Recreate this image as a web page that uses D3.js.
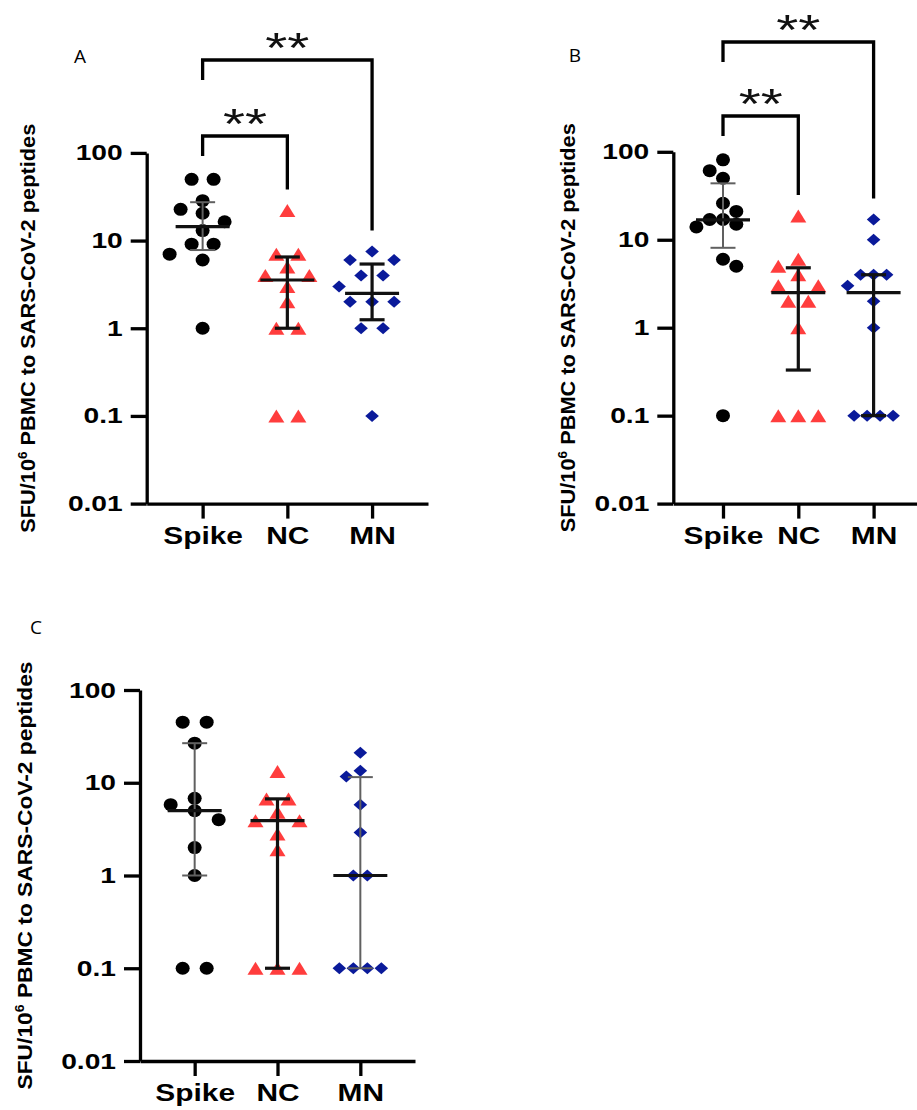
<!DOCTYPE html>
<html>
<head>
<meta charset="utf-8">
<script src="https://cdn.jsdelivr.net/npm/d3@7"></script>
<style>
body { margin: 0; background: #fff; }
svg { display: block; }
</style>
</head>
<body>
<svg id="fig" width="917" height="1110"></svg>
<script>
var groups = ["Spike", "NC", "MN"]
var yTicks = [100, 10, 1, 0.1, 0.01]
var yTickLabels = ["100", "10", "1", "0.1", "0.01"]

// values, SFU per 10^6 PBMC
var spikeA = [50, 50, 28.5, 22.7, 20.5, 16.4, 13, 9.1, 9.1, 7, 6, 1]
var ncA = [22, 7, 7, 5, 4, 4, 3, 2, 1, 1, 0.1, 0.1]
var mnA = [7.5, 6, 6, 4, 4, 3, 2, 2, 2, 1, 1, 0.1]
var statsA = [[14.4, 7.8, 27.4], [3.55, 1, 6.5], [2.5, 1.25, 5.4]]   // median, q1, q3
var sigA = [["Spike", "NC", "**"], ["Spike", "MN", "**"]]

var spikeB = [81, 61, 50, 26, 21, 17, 17, 15, 14, 6, 5, 0.1]
var ncB = [18.6, 6, 5, 4, 3, 3, 2, 2, 1, 0.1, 0.1, 0.1]
var mnB = [17, 10, 4, 4, 4, 3, 2, 1, 0.1, 0.1, 0.1, 0.1]
var statsB = [[16.8, 8.1, 43.8], [2.5, 0.33, 4.8], [2.5, 0.1, 4]]
var sigB = [["Spike", "NC", "**"], ["Spike", "MN", "**"]]

var spikeC = [45, 45, 26.7, 6.8, 5.8, 5, 4, 2, 1, 0.1, 0.1]
var ncC = [13.2, 6.7, 6.7, 4.8, 3.9, 3.9, 2.8, 1.9, 0.1, 0.1, 0.1]
var mnC = [21, 13.5, 11.7, 5.8, 2.9, 1, 1, 0.1, 0.1, 0.1, 0.1]
var statsC = [[5, 1, 26.7], [3.9, 0.1, 6.7], [1, 0.1, 11.5]]
var sigC = []

var colors = ["#000000", "#ff3d3d", "#0a1a9a"]
var font = "'Liberation Sans', Arial, sans-serif"

var panels = [
    {letter: "A", data: [spikeA, ncA, mnA], stats: statsA, sig: sigA,
     x0: 146.7, x1: 428, yTop: 152.9, yBot: 503.6, lx: 80, ly: 56, tx: 28, tlen: 409,
     brY: [136, 60], gaps: [22, 22, 22], thin: [true, false, false]},
    {letter: "B", data: [spikeB, ncB, mnB], stats: statsB, sig: sigB,
     x0: 673.3, x1: 923.3, yTop: 151.8, yBot: 503.6, lx: 575, ly: 55, tx: 567.5, tlen: 409,
     brY: [116, 42], gaps: [13.3, 20, 13], thin: [true, false, false]},
    {letter: "C", data: [spikeC, ncC, mnC], stats: statsC, sig: sigC,
     x0: 140, x1: 415, yTop: 690, yBot: 1061, lx: 36, ly: 627, tx: 25, tlen: 428,
     brY: [], gaps: [24, 22, 14], thin: [true, false, true]}
]

var svg = d3.select("#fig")

// marker shapes: circle, triangle, diamond
var shapes = [
    "M-7,0a7,6.5 0 1,0 14,0a7,6.5 0 1,0 -14,0Z",
    "M0,-6.5L8,6.5L-8,6.5Z",
    "M0,-6L6.8,0L0,6L-6.8,0Z"
]

function stretch(sel, k) {
    sel.each(function() {
        var w = this.getComputedTextLength()
        d3.select(this).attr("textLength", w * k).attr("lengthAdjust", "spacingAndGlyphs")
    })
}

// scatter layout on a grid of half-gaps: points close in y sit at least a full gap apart.
// tied values are laid out symmetrically, spreading wider if that keeps the column narrow
function swarm(vals, y, h) {
    var items = vals.map(function(v) { return {v: v, y: y(v), k: 0} })
    var sorted = items.slice().sort(function(a, b) { return a.y - b.y })
    var placed = []
    function free(d, k) {
        return placed.every(function(q) {
            return Math.abs(q.y - d.y) >= h || Math.abs(q.k - k) >= 2
        })
    }
    var i = 0
    while (i < sorted.length) {
        var j = i
        while (j < sorted.length && Math.abs(sorted[j].y - sorted[i].y) < 0.5) j++
        var grp = sorted.slice(i, j), n = grp.length
        var sum = d3.sum(placed, function(d) { return d.k })
        var best = null
        for (var w = 1; w <= (n > 1 ? 3 : 1); w++) {
            for (var sh = -8; sh <= 8; sh++) {
                var ks = grp.map(function(d, m) { return (2 * m - (n - 1)) * w + sh })
                var ok = grp.every(function(d, m) { return free(d, ks[m]) })
                if (!ok) continue
                var cost = d3.max(ks, Math.abs) + 0.1 * w + 0.01 * Math.abs(sh)
                if (sh !== 0) cost += (sum >= 0 ? (sh > 0 ? 0.001 : 0) : (sh < 0 ? 0.001 : 0))
                if (!best || cost < best.cost) best = {cost: cost, ks: ks}
            }
        }
        grp.forEach(function(d, m) { d.k = best.ks[m]; placed.push(d) })
        i = j
    }
    return items
}

panels.forEach(function(p) {
    var x = d3.scalePoint().domain(groups).range([p.x0, p.x1]).padding(0.66)
    var y = d3.scaleLog().domain([0.01, 100]).range([p.yBot, p.yTop])
    var g = svg.append("g")

    // points
    p.data.forEach(function(vals, gi) {
        var s = p.gaps[gi] / 2
        var cx = x(groups[gi])
        g.append("g").selectAll("path")
            .data(swarm(vals, y, 12))
            .join("path")
            .attr("d", shapes[gi])
            .attr("fill", colors[gi])
            .attr("transform", function(d) { return "translate(" + (cx + d.k * s) + "," + d.y + ")" })
    })

    // median and interquartile range
    p.stats.forEach(function(st, gi) {
        var cx = x(groups[gi])
        var col = p.thin[gi] ? "#606060" : "#111"
        var sw = p.thin[gi] ? 2 : 3.2
        var eb = g.append("g").attr("stroke", col).attr("stroke-width", sw).attr("fill", "none")
        eb.append("line").attr("x1", cx).attr("x2", cx).attr("y1", y(st[1])).attr("y2", y(st[2]))
        eb.append("line").attr("x1", cx - 12.5).attr("x2", cx + 12.5).attr("y1", y(st[1])).attr("y2", y(st[1]))
        eb.append("line").attr("x1", cx - 12.5).attr("x2", cx + 12.5).attr("y1", y(st[2])).attr("y2", y(st[2]))
        eb.append("line").attr("x1", cx - 27).attr("x2", cx + 27).attr("y1", y(st[0])).attr("y2", y(st[0]))
            .attr("stroke-width", 3.2).attr("stroke", "#111")
    })

    // axes
    var ya = g.append("g")
        .attr("transform", "translate(" + p.x0 + ",0)")
        .call(d3.axisLeft(y).tickValues(yTicks)
            .tickFormat(function(d, i) { return yTickLabels[i] })
            .tickSize(16).tickSizeOuter(0).tickPadding(8))
    var xa = g.append("g")
        .attr("transform", "translate(0," + p.yBot + ")")
        .call(d3.axisBottom(x).tickSize(15).tickSizeOuter(0).tickPadding(9))
    ;[ya, xa].forEach(function(a) {
        a.select(".domain").attr("stroke", "#000").attr("stroke-width", 3.3)
        a.selectAll(".tick line").attr("stroke", "#000").attr("stroke-width", 3.3)
        a.selectAll("text").attr("fill", "#000").attr("font-family", font).attr("font-weight", "bold")
    })
    ya.selectAll("text").attr("font-size", 22)
    xa.selectAll("text").attr("font-size", 23)
    stretch(ya.selectAll("text"), 1.28)
    stretch(xa.selectAll("text"), 1.3)

    // y axis title
    var title = g.append("text")
        .attr("transform", "translate(" + p.tx + "," + (p.yTop + p.yBot) / 2 + ") rotate(-90)")
        .attr("text-anchor", "middle")
        .attr("dy", "0.35em")
        .attr("font-family", font)
        .attr("font-weight", "bold")
        .attr("font-size", 21)
        .attr("textLength", p.tlen)
        .attr("lengthAdjust", "spacingAndGlyphs")
    title.append("tspan").text("SFU/10")
    title.append("tspan").attr("font-size", 13).attr("dy", -8).text("6")
    title.append("tspan").attr("dy", 8).text(" PBMC to SARS-CoV-2 peptides")

    // panel letter
    g.append("text")
        .attr("x", p.lx).attr("y", p.ly).attr("dy", "0.35em")
        .attr("text-anchor", "middle")
        .attr("font-family", "'Open Sans', sans-serif")
        .attr("font-size", 19)
        .text(p.letter)

    // significance brackets
    p.sig.forEach(function(sg, li) {
        var by = p.brY[li]
        var xa1 = x(sg[0]), xb = x(sg[1])
        var top = d3.max(p.data[groups.indexOf(sg[1])])
        g.append("path")
            .attr("d", "M" + xa1 + "," + (by + 20) + "V" + by + "H" + xb + "V" + (y(top) - 21))
            .attr("fill", "none").attr("stroke", "#000").attr("stroke-width", 3.3)
        g.append("text")
            .attr("x", (xa1 + xb) / 2).attr("y", by - 20 + 22)
            .attr("text-anchor", "middle")
            .attr("font-family", font)
            .attr("font-size", 42)
            .attr("textLength", 44).attr("lengthAdjust", "spacingAndGlyphs")
            .attr("fill", "#111")
            .text(sg[2])
    })
})
</script>
</body>
</html>
